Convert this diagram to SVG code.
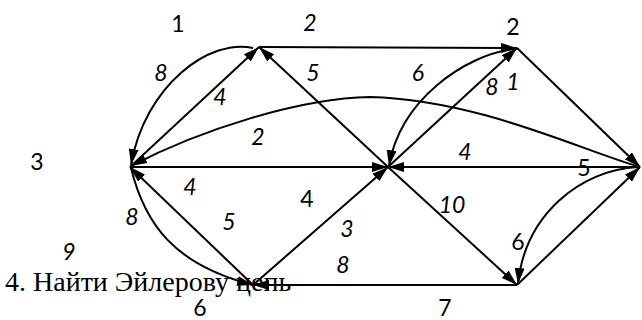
<svg xmlns="http://www.w3.org/2000/svg" width="642" height="320" viewBox="0 0 642 320">
<defs>
<marker id="ah" markerUnits="userSpaceOnUse" markerWidth="18" markerHeight="12" refX="16" refY="5" orient="auto">
<path d="M0,0 L16,5 L0,10 Z" fill="#000"/>
</marker>
<style>
.e{fill:none;stroke:#000;stroke-width:2;marker-end:url(#ah)}
.n{font-family:Lato,"Open Sans",sans-serif;font-size:23px;fill:#000;text-anchor:middle}
.w{font-family:Lato,"Open Sans",sans-serif;font-size:23px;font-style:italic;fill:#000;text-anchor:middle}
.t{font-family:"Liberation Serif",serif;font-size:28px;fill:#000}
</style>
</defs>
<rect width="642" height="320" fill="#fff"/>
<g id="caption"><text class="t" x="5" y="291">4. Найти Эйлерову цепь</text></g>
<g id="connectors">
<path class="e" d="M259 47 L517 48"/>
<path class="e" d="M517 48 L640 167"/>
<path class="e" d="M253 48 C210 38 145 85 131 165"/>
<path class="e" d="M130 167 L259 47"/>
<path class="e" d="M388 167 L259 47"/>
<path class="e" d="M640 167 C580 150 480 100 370 97 C300 98 200 130 131 166"/>
<path class="e" d="M130 167 L388 167"/>
<path class="e" d="M640 167 L388 167"/>
<path class="e" d="M514 49 C465 55 400 100 389 166"/>
<path class="e" d="M388 167 L517 48"/>
<path class="e" d="M388 167 L517 285"/>
<path class="e" d="M638 167 C580 170 525 215 518 284"/>
<path class="e" d="M517 285 L640 167"/>
<path class="e" d="M131 168 C145 225 175 265 253 285"/>
<path class="e" d="M253 285 L130 167"/>
<path class="e" d="M253 285 L388 167"/>
<path class="e" d="M517 285 L253 285"/>
</g>
<g id="node1"><text class="n" x="178" y="32">1</text></g>
<g id="node2"><text class="n" x="513" y="35">2</text></g>
<g id="node3"><text class="n" x="37" y="170">3</text></g>
<g id="node5"><text class="n" x="584" y="176">5</text></g>
<g id="node6"><text class="n" x="200" y="316">6</text></g>
<g id="node7"><text class="n" x="445" y="316">7</text></g>
<g id="labels">
<text class="w" x="310" y="31">2</text>
<text class="w" x="161" y="81">8</text>
<text class="w" x="220" y="105">4</text>
<text class="w" x="313" y="81">5</text>
<text class="w" x="258" y="145">2</text>
<text class="w" x="418" y="81">6</text>
<text class="w" x="492" y="95">8</text>
<text class="w" x="513" y="90">1</text>
<text class="w" x="465" y="160">4</text>
<text class="w" x="452" y="213">10</text>
<text class="w" x="347" y="237">3</text>
<text class="w" x="343" y="273">8</text>
<text class="w" x="190" y="195">4</text>
<text class="w" x="132" y="225">8</text>
<text class="w" x="229" y="230">5</text>
<text class="w" x="69" y="260">9</text>
<text class="n" x="307" y="207">4</text>
<text class="n" x="518" y="250">6</text>
</g>
</svg>
